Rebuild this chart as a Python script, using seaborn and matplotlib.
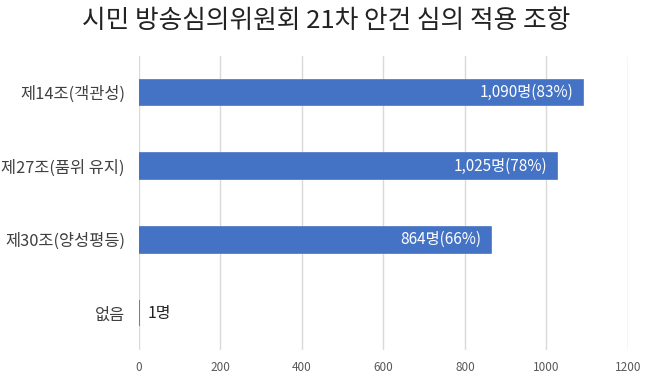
import pandas as pd
import matplotlib
matplotlib.use("Agg")
import matplotlib.pyplot as plt
import seaborn as sns

# =========================
# dados
# =========================
categorias = ["제14조(객관성)", "제27조(품위 유지)", "제30조(양성평등)", "없음"]
valores = [1090, 1025, 864, 1]
rotulos = ["1,090명(83%)", "1,025명(78%)", "864명(66%)", "1명"]
ticks_x = [0, 200, 400, 600, 800, 1000, 1200]

df = pd.DataFrame({"categoria": categorias, "valor": valores})

# =========================
# estilo
# =========================
sns.set_style("white")
plt.rcParams["font.family"] = ["Noto Sans CJK KR", "DejaVu Sans"]

fig = plt.figure(figsize=(6.52, 3.8), dpi=100)
ax = fig.add_axes([0.213, 0.079, 0.75, 0.774])

sns.barplot(
    data=df,
    x="valor",
    y="categoria",
    color="#4472C4",
    width=0.35,
    saturation=1,
    edgecolor="#4472C4",
    linewidth=1.2,
    ax=ax
)

ax.set_xlim(0, 1200)
ax.set_xticks(ticks_x)
ax.set_xticklabels([str(t) for t in ticks_x], fontsize=8.5, color="#595959")
ax.tick_params(axis="y", labelsize=11.8, labelcolor="#404040", length=0, pad=10)
ax.tick_params(axis="x", length=0, pad=8)
ax.set_xlabel("")
ax.set_ylabel("")

ax.grid(axis="x", color="#d9d9d9", linewidth=1)
ax.set_axisbelow(True)
for lado in ["top", "right", "bottom", "left"]:
    ax.spines[lado].set_visible(False)

# rótulos das barras
for i, (v, txt) in enumerate(zip(valores, rotulos)):
    if v > 100:
        ax.text(v - 24, i, txt, ha="right", va="center", color="white", fontsize=11)
    else:
        ax.text(v + 20, i, txt, ha="left", va="center", color="#222222", fontsize=11.5)

fig.text(0.5, 0.945, "시민 방송심의위원회 21차 안건 심의 적용 조항",
         ha="center", va="center", fontsize=18.5, color="#222222")

plt.savefig("out.png", dpi=100)
